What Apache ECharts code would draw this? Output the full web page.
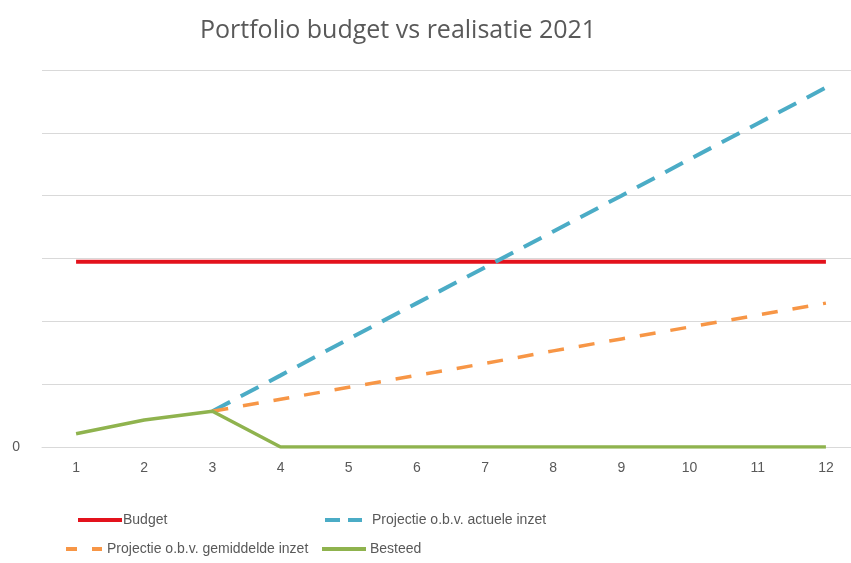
<!DOCTYPE html>
<html>
<head>
<meta charset="utf-8">
<script src="https://cdn.jsdelivr.net/npm/echarts@6/dist/echarts.min.js"></script>
<style>
  html, body { margin: 0; padding: 0; background: #ffffff; }
  #chart { width: 851px; height: 563px; }
</style>
</head>
<body>
<div id="chart"></div>
<script>
// Months of 2021
const months = ['1', '2', '3', '4', '5', '6', '7', '8', '9', '10', '11', '12'];

// Yearly budget (flat line)
const budget = [295, 295, 295, 295, 295, 295, 295, 295, 295, 295, 295, 295];

// Projection based on current spending rate (from month 3 on)
const projActueel = [null, null, 57, 114, 172, 229, 286, 343, 400, 458, 515, 572];

// Projection based on average spending rate (from month 3 on)
const projGemiddeld = [null, null, 57, 76, 95, 114, 133, 153, 172, 191, 210, 229];

// Amount spent so far
const besteed = [21, 43, 57, 0, 0, 0, 0, 0, 0, 0, 0, 0];

// Value axis ticks: only zero is labelled
const yTicks = { min: 0, max: 600, interval: 100 };

const textColor = '#595959';
const font = '"Liberation Sans", Arial, sans-serif';

const colors = {
  budget: '#e3121c',
  actueel: '#4bacc6',
  gemiddeld: '#f79646',
  besteed: '#8fb34e'
};

const names = {
  budget: 'Budget',
  actueel: 'Projectie o.b.v. actuele inzet',
  gemiddeld: 'Projectie o.b.v. gemiddelde inzet',
  besteed: 'Besteed'
};

// Legend keys drawn as short bars (solid) or two dashes
const icons = {
  solid: 'path://M0,0H44V4H0Z',
  dashBlue: 'path://M0,0H15V4H0Z M23,0H37V4H23Z',
  dashOrange: 'path://M0,0H11V4H0Z M26,0H36V4H26Z'
};

function legendAt(name, left, top, icon, w, textPad) {
  return {
    data: [name],
    left: left,
    top: top,
    orient: 'horizontal',
    icon: icon,
    itemWidth: w,
    itemHeight: 4,
    itemGap: 4,
    selectedMode: false,
    textStyle: { color: textColor, fontSize: 14, fontFamily: font, padding: [0, 0, 0, textPad] }
  };
}

const chart = echarts.init(document.getElementById('chart'), null, { renderer: 'canvas' });

chart.setOption({
  animation: false,
  backgroundColor: '#ffffff',
  title: {
    text: 'Portfolio budget vs realisatie 2021',
    left: 195,
    top: 13,
    textStyle: {
      color: textColor,
      fontSize: 25,
      fontWeight: 'normal',
      fontFamily: '"Open Sans", "Noto Sans", sans-serif'
    }
  },
  legend: [
    legendAt(names.budget, 73, 508, icons.solid, 44, -4),
    legendAt(names.actueel, 320, 508, icons.dashBlue, 37, 5),
    legendAt(names.gemiddeld, 61, 537, icons.dashOrange, 36, 0),
    legendAt(names.besteed, 317, 537, icons.solid, 48, -3)
  ],
  grid: {
    left: 42,
    top: 70,
    width: 818,
    height: 377,
    outerBoundsMode: 'none',
    containLabel: false
  },
  xAxis: {
    type: 'category',
    data: months,
    boundaryGap: true,
    axisLine: { show: true, lineStyle: { color: '#d9d9d9', width: 1 } },
    axisTick: { show: false },
    axisLabel: { color: textColor, fontSize: 14, fontFamily: font, margin: 14 }
  },
  yAxis: {
    type: 'value',
    min: yTicks.min,
    max: yTicks.max,
    interval: yTicks.interval,
    axisLine: { show: false },
    axisTick: { show: false },
    splitLine: { lineStyle: { color: '#d9d9d9', width: 1 } },
    axisLabel: {
      color: textColor,
      fontSize: 14,
      fontFamily: font,
      margin: 22,
      formatter: v => (v === 0 ? '0' : '')
    }
  },
  series: [
    {
      name: names.budget,
      type: 'line',
      data: budget,
      symbol: 'none',
      lineStyle: { color: colors.budget, width: 4 },
      itemStyle: { color: colors.budget }
    },
    {
      name: names.actueel,
      type: 'line',
      data: projActueel,
      symbol: 'none',
      lineStyle: { color: colors.actueel, width: 4, type: [20, 12] },
      itemStyle: { color: colors.actueel }
    },
    {
      name: names.gemiddeld,
      type: 'line',
      data: projGemiddeld,
      symbol: 'none',
      lineStyle: { color: colors.gemiddeld, width: 3.5, type: [16, 15] },
      itemStyle: { color: colors.gemiddeld }
    },
    {
      name: names.besteed,
      type: 'line',
      data: besteed,
      symbol: 'none',
      lineStyle: { color: colors.besteed, width: 3.5 },
      itemStyle: { color: colors.besteed }
    }
  ]
});
</script>
</body>
</html>
